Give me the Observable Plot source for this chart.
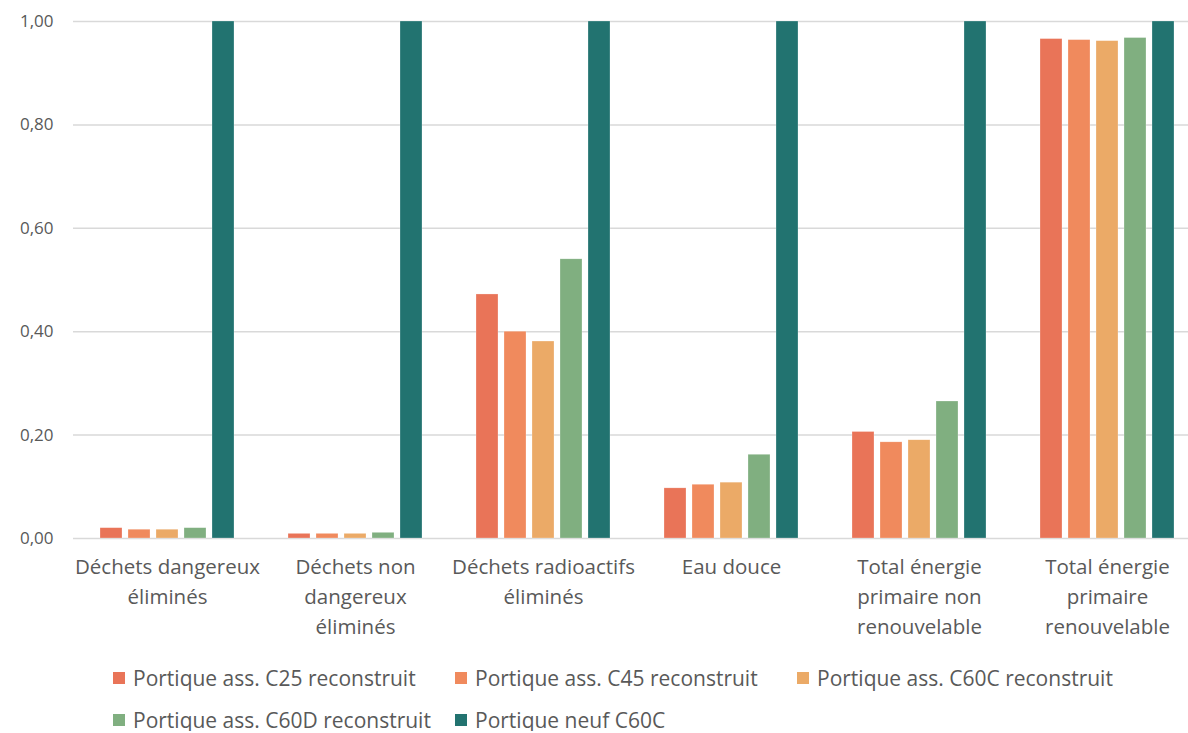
<!DOCTYPE html>
<html><head><meta charset="utf-8">
<script src="https://cdn.jsdelivr.net/npm/d3@7"></script>
<script src="https://cdn.jsdelivr.net/npm/@observablehq/plot@0.6"></script>
<style>
body{margin:0;background:#fff;font-family:"Open Sans",sans-serif;color:#595959;overflow:hidden;width:1188px;}
#chart{width:1188px;overflow:hidden;height:650px;}
#chart svg{max-width:none !important;}
#legend{display:grid;grid-template-columns:342px 342px 342px;margin-left:113px;row-gap:20px;margin-top:17px;}
.item{display:flex;align-items:center;font-size:21px;height:22px;line-height:22px;white-space:nowrap;}
.sw{width:12px;height:12px;margin-right:8px;flex:none;}
</style></head>
<body><div id="chart"></div><div id="legend"></div>
<script>
const categories = ["Déchets dangereux éliminés","Déchets non dangereux éliminés","Déchets radioactifs éliminés","Eau douce","Total énergie primaire non renouvelable","Total énergie primaire renouvelable"];
const categoryLabels = ["Déchets dangereux\néliminés","Déchets non\ndangereux\néliminés","Déchets radioactifs\néliminés","Eau douce","Total énergie\nprimaire non\nrenouvelable","Total énergie\nprimaire\nrenouvelable"];
const series = ["Portique ass. C25 reconstruit","Portique ass. C45 reconstruit","Portique ass. C60C reconstruit","Portique ass. C60D reconstruit","Portique neuf C60C"];
const colors = ["#E97458","#F08A5D","#EBAA67","#80AF80","#227370"];
const c25 = [0.020,0.009,0.472,0.097,0.206,0.966];
const c45 = [0.017,0.009,0.400,0.104,0.186,0.964];
const c60c = [0.017,0.009,0.381,0.108,0.190,0.962];
const c60d = [0.020,0.011,0.540,0.162,0.265,0.968];
const neuf = [1,1,1,1,1,1];
const yTicks = [0,0.2,0.4,0.6,0.8,1];

const vals = [c25,c45,c60c,c60d,neuf];
const data = categories.flatMap((c,i)=>series.map((s,j)=>({category:c,series:s,value:vals[j][i]})));
const labelMap = Object.fromEntries(categories.map((c,i)=>[c,categoryLabels[i]]));

const chart = Plot.plot({
  width:1201, height:650,
  marginLeft:72, marginRight:0, marginTop:21, marginBottom:112,
  style:{fontFamily:"Open Sans", color:"#595959", background:"#fff", maxWidth:"none"},
  fx:{domain:categories, padding:0, label:null},
  x:{domain:series, paddingInner:0.213, paddingOuter:0.868, axis:null},
  y:{domain:[0,1], label:null},
  color:{domain:series, range:colors},
  marks:[
    Plot.ruleY(yTicks,{stroke:"#d9d9d9", strokeWidth:1.5}),
    Plot.barY(data,{fx:"category", x:"series", y:"value", fill:"series", stroke:"#fff", strokeOpacity:0.5, strokeWidth:0.5}),
    Plot.axisY({ticks:yTicks, tickFormat:d=>d.toFixed(2).replace(".",","), tickSize:0, tickPadding:20, fontSize:17, label:null}),
    Plot.axisFx({anchor:"bottom", tickSize:0, tickPadding:14, tickFormat:d=>labelMap[d], lineHeight:1.46, fontSize:20.5, label:null})
  ]
});
document.getElementById("chart").append(chart);
const lg = document.getElementById("legend");
series.forEach((s,i)=>{
  const it=document.createElement("div");it.className="item";
  const sw=document.createElement("span");sw.className="sw";sw.style.background=colors[i];
  it.append(sw, document.createTextNode(s));lg.append(it);
});
</script></body></html>
